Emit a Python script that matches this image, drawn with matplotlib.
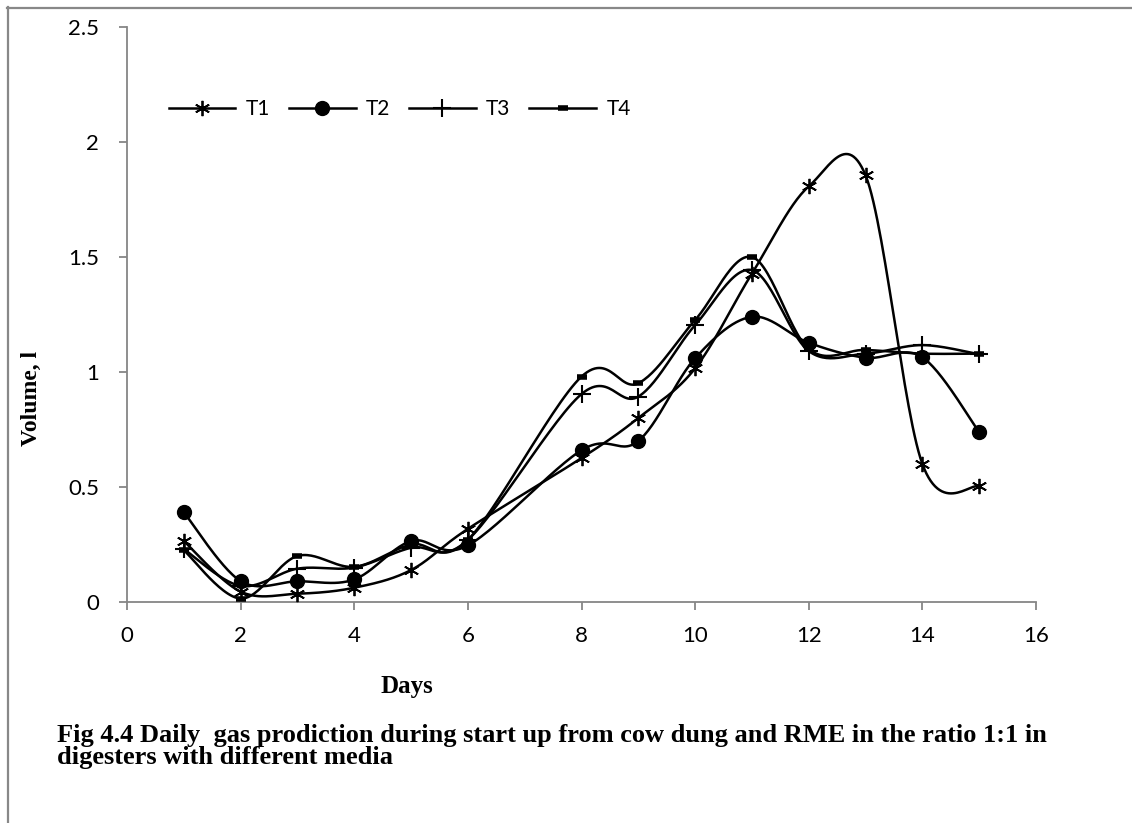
import numpy as np
import matplotlib
matplotlib.use("Agg")
import matplotlib.pyplot as plt
from matplotlib.lines import Line2D

days = [1, 2, 3, 4, 5, 6, 8, 9, 10, 11, 12, 13, 14, 15]
t1 = [0.265, 0.045, 0.036, 0.062, 0.139, 0.318, 0.626, 0.80, 1.016, 1.428, 1.807, 1.855, 0.60, 0.503]
t2 = [0.39, 0.091, 0.09, 0.098, 0.265, 0.246, 0.66, 0.70, 1.06, 1.24, 1.127, 1.062, 1.064, 0.739]
t3 = [0.23, 0.07, 0.145, 0.15, 0.236, 0.27, 0.904, 0.893, 1.204, 1.443, 1.091, 1.08, 1.117, 1.077]
t4 = [0.225, 0.015, 0.2, 0.153, 0.25, 0.27, 0.98, 0.951, 1.226, 1.50, 1.10, 1.096, 1.08, 1.08]
series_names = ["T1", "T2", "T3", "T4"]


def smooth(x, y, n=30):
    # Excel-like smoothed line: Catmull-Rom turned into cubic Bezier segments
    p = np.column_stack([x, y]).astype(float)
    p = np.vstack([p[0], p, p[-1]])
    out = []
    t = np.linspace(0, 1, n)[:, None]
    for i in range(1, len(p) - 2):
        p0, p3 = p[i], p[i + 1]
        c1 = p0 + (p[i + 1] - p[i - 1]) / 6
        c2 = p3 - (p[i + 2] - p[i]) / 6
        seg = (1 - t) ** 3 * p0 + 3 * (1 - t) ** 2 * t * c1 + 3 * (1 - t) * t ** 2 * c2 + t ** 3 * p3
        out.append(seg if i == 1 else seg[1:])
    out = np.vstack(out)
    return out[:, 0], out[:, 1]


W, H = 1132, 823
fig = plt.figure(figsize=(W / 100, H / 100), dpi=100)
ax = fig.add_axes([127 / W, 1 - 602 / H, (1036 - 127) / W, (602 - 27) / H])

tick_font = "Lato"
serif = "Liberation Serif"

styles = [
    dict(marker=(6, 2, 0), markersize=11, markeredgewidth=1.3),
    dict(marker="o", markersize=10),
    dict(marker="+", markersize=13, markeredgewidth=1.5),
    dict(marker="_", markersize=7, markeredgewidth=4),
]

for vals, name, st in zip([t1, t2, t3, t4], series_names, styles):
    sx, sy = smooth(days, vals)
    ax.plot(sx, sy, color="black", lw=1.8, zorder=2)
    ax.plot(days, vals, linestyle="none", color="black", zorder=3, **st)

ax.set_xlim(0, 16)
ax.set_ylim(0, 2.5)
ax.set_xticks(range(0, 17, 2))
ax.set_yticks([0, 0.5, 1, 1.5, 2, 2.5])
ax.set_yticklabels(["0", "0.5", "1", "1.5", "2", "2.5"])

for s in ["top", "right"]:
    ax.spines[s].set_visible(False)
for s in ["left", "bottom"]:
    ax.spines[s].set_color("#868686")
    ax.spines[s].set_linewidth(1.3)
ax.tick_params(axis="both", direction="out", color="#868686", width=1.3, length=6,
               labelsize=16, pad=11)
ax.tick_params(axis="y", pad=14)
for lab in ax.get_xticklabels() + ax.get_yticklabels():
    lab.set_fontfamily(tick_font)

ax.set_xlabel("Days", fontfamily=serif, fontweight="bold", fontsize=18)
ax.xaxis.set_label_coords((407 - 127) / (1036 - 127), -(675 - 602) / (602 - 27))
ax.set_ylabel("Volume, l", fontfamily=serif, fontweight="bold", fontsize=17)
ax.yaxis.set_label_coords(-(127 - 42) / (1036 - 127), (602 - 398) / (602 - 27))

handles = []
for name, st in zip(series_names, styles):
    handles.append(Line2D([0], [0], color="black", lw=1.8, **st))
fig.legend(handles, series_names, loc="center left", ncol=4, frameon=False,
           bbox_to_anchor=(150 / W, 1 - 109 / H), handlelength=3.2, columnspacing=0.9,
           handletextpad=0.5, prop={"family": tick_font, "size": 15})

fig.text(57 / W, 1 - 742 / H,
         "Fig 4.4 Daily  gas prodiction during start up from cow dung and RME in the ratio 1:1 in",
         fontfamily=serif, fontweight="bold", fontsize=19, va="baseline", ha="left")
fig.text(57 / W, 1 - 764 / H, "digesters with different media",
         fontfamily=serif, fontweight="bold", fontsize=19, va="baseline", ha="left")

# outer frame (only top and left edges visible in the crop)
fig.add_artist(Line2D([7 / W, 1], [1 - 7.5 / H, 1 - 7.5 / H], color="#888888", lw=1.6,
                      transform=fig.transFigure))
fig.add_artist(Line2D([7.5 / W, 7.5 / W], [0, 1 - 7 / H], color="#888888", lw=1.6,
                      transform=fig.transFigure))

fig.savefig("out.png", dpi=100)
